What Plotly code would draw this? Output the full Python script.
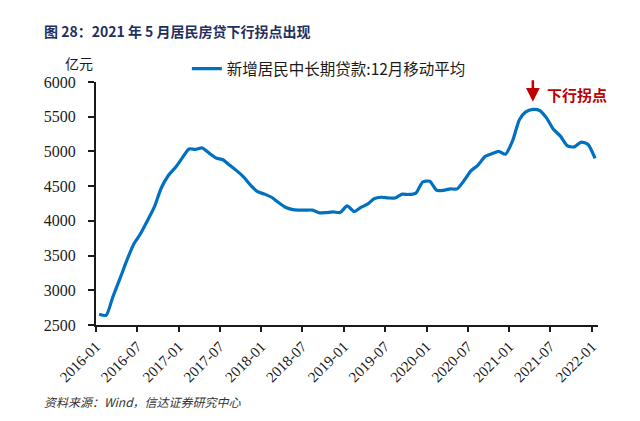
import plotly.graph_objects as go
import pandas as pd

# monthly data, 2016-01 .. 2022-01 (plotted mid-month)
months = pd.date_range("2016-01-01", periods=73, freq="MS") + pd.Timedelta(days=14)
values = [
    2655, 2640, 2900, 3160, 3420, 3660, 3810, 4000, 4200, 4470, 4650, 4760,   # 2016
    4900, 5036, 5030, 5050, 4975, 4905, 4880, 4800, 4720, 4630, 4510, 4420,   # 2017
    4385, 4340, 4270, 4200, 4165, 4155, 4155, 4155, 4115, 4120, 4128, 4120,   # 2018
    4215, 4135, 4190, 4240, 4320, 4340, 4330, 4330, 4385, 4380, 4400, 4560,   # 2019
    4570, 4440, 4440, 4460, 4460, 4580, 4720, 4800, 4925, 4965, 5000, 4960,   # 2020
    5150, 5460, 5570, 5605, 5590, 5480, 5320, 5220, 5080, 5065, 5135, 5100,   # 2021
    4900,                                                                     # 2022-01
]
series_name = "新增居民中长期贷款:12月移动平均"
tick_vals = pd.date_range("2016-01-01", "2022-01-01", freq="6MS")
tick_text = [d.strftime("%Y-%m") for d in tick_vals]
y_ticks = [2500, 3000, 3500, 4000, 4500, 5000, 5500, 6000]

SERIF = "Liberation Serif"
fig = go.Figure()
fig.add_trace(go.Scatter(
    x=months, y=values, mode="lines", name=series_name,
    line=dict(color="#0070C0", width=3.2, shape="spline", smoothing=0.6),
))

# page has an 8px body margin, so the figure is 8px smaller and shifted
fig.update_layout(
    width=632, height=413,
    margin=dict(l=88, r=42, t=74, b=96, autoexpand=False),
    paper_bgcolor="white", plot_bgcolor="white",
    showlegend=True,
    legend=dict(
        xref="container", yref="container",
        x=0.283, y=0.852, xanchor="left", yanchor="middle",
        font=dict(family="Noto Sans CJK SC", size=15.5, color="#1a1a1a"),
        bgcolor="rgba(0,0,0,0)",
    ),
    xaxis=dict(
        type="date", automargin=False,
        range=["2016-01-01", "2022-01-28"],
        tickvals=tick_vals, ticktext=tick_text, tickangle=-45,
        showline=True, linecolor="#1a1a1a", linewidth=2,
        ticks="outside", ticklen=5, tickwidth=1.5, tickcolor="#1a1a1a",
        showgrid=False, zeroline=False,
        tickfont=dict(family=SERIF, size=15, color="#1a1a1a"),
    ),
    yaxis=dict(
        range=[2500, 6000], tickvals=y_ticks, automargin=False,
        showline=True, linecolor="#1a1a1a", linewidth=2,
        ticks="outside", ticklen=6, tickwidth=1.5, tickcolor="#1a1a1a",
        showgrid=False, zeroline=False,
        tickfont=dict(family=SERIF, size=16, color="#1a1a1a"), ticklabelstandoff=9,
    ),
)

# title
fig.add_annotation(
    xref="paper", yref="paper", x=-0.101, y=1.208, xanchor="left", yanchor="middle",
    xshift=-3,
    text="<b>图 28：2021 年 5 月居民房贷下行拐点出现</b>", showarrow=False,
    font=dict(family="Noto Sans CJK SC", size=14, color="#1F2F5F"),
)
# unit
fig.add_annotation(
    xref="paper", yref="paper", x=-0.066, y=1.08, xanchor="left", yanchor="middle",
    text="亿元", showarrow=False,
    font=dict(family="Noto Sans CJK SC", size=14, color="#1a1a1a"),
)
# arrow to turning point
fig.add_annotation(
    x="2021-04-15", y=5715, xref="x", yref="y",
    text="", showarrow=True, ax=0, ay=-23,
    arrowhead=2, arrowsize=1.1, arrowwidth=2.5, arrowcolor="#C00000",
)
fig.add_annotation(
    xref="paper", yref="paper", x=0.894, y=0.95, xanchor="left", yanchor="middle",
    text="<b>下行拐点</b>", showarrow=False,
    font=dict(family="Noto Sans CJK SC", size=15, color="#C00000"),
)
# source
fig.add_annotation(
    xref="paper", yref="paper", x=-0.1, y=-0.316, xanchor="left", yanchor="middle",
    xshift=-4,
    text="<i>资料来源：Wind，信达证券研究中心</i>", showarrow=False,
    font=dict(family="Noto Sans CJK SC", size=12, color="#333333"),
)

fig.write_html("out.html")
